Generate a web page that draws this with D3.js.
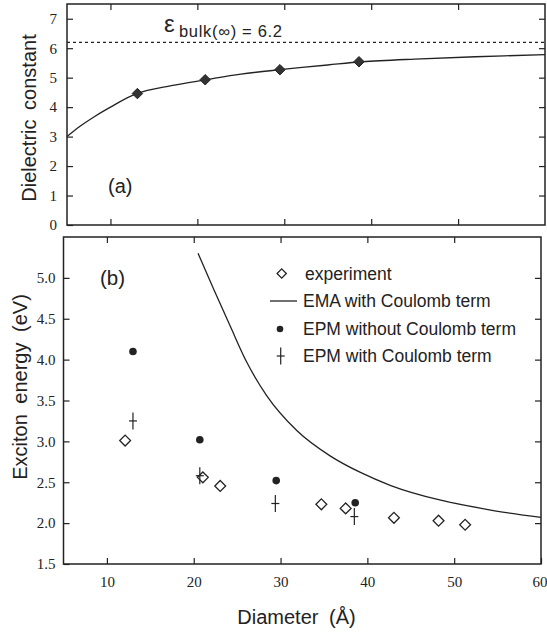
<!DOCTYPE html>
<html>
<head>
<meta charset="utf-8">
<script src="https://cdn.jsdelivr.net/npm/d3@7"></script>
<style>
  html, body { margin: 0; padding: 0; background: #fff; }
  svg { display: block; }
</style>
</head>
<body>
<svg id="chart" width="547" height="633"></svg>
<script>
// ---------- data ----------
// panel (a): dielectric constant vs diameter
const dielDiam = [13.1, 20.9, 29.5, 38.6];
const dielEps  = [4.46, 4.93, 5.27, 5.54];
const dielFitDiam = [5, 6.5, 8, 10, 13, 17, 21, 25, 29.5, 35, 39, 45, 52, 60];
const dielFitEps  = [3.0, 3.35, 3.65, 4.0, 4.46, 4.73, 4.93, 5.12, 5.27, 5.43, 5.54, 5.63, 5.71, 5.78];
const epsBulk = 6.2;
const dielTicksY = [0, 1, 2, 3, 4, 5, 6, 7];

// panel (b): exciton energy vs diameter
const expDiam = [12.1, 21.05, 23.05, 34.7, 37.5, 43.06, 48.2, 51.26];
const expE    = [3.01, 2.56, 2.455, 2.23, 2.18, 2.065, 2.03, 1.98];
const epmNoCDiam = [13.0, 20.7, 29.5, 38.6];
const epmNoCE    = [4.10, 3.02, 2.52, 2.25];
const epmCDiam = [13.0, 20.7, 29.4, 38.5];
const epmCE    = [3.25, 2.58, 2.24, 2.08];
const emaDiam = [20.5, 22.3, 24.2, 26.1, 28.4, 31.9, 35.75, 39.2, 42.7, 48.45, 54.2, 60];
const emaE    = [5.30, 4.86, 4.41, 3.97, 3.56, 3.13, 2.82, 2.62, 2.46, 2.28, 2.16, 2.07];
const energyTicks = [1.5, 2.0, 2.5, 3.0, 3.5, 4.0, 4.5, 5.0];
const diamTicks = [10, 20, 30, 40, 50, 60];
const legendLabels = ["experiment", "EMA with Coulomb term", "EPM without Coulomb term", "EPM with Coulomb term"];

// ---------- setup ----------
const ink = "#222";
const sans = "'Liberation Sans', Arial, Helvetica, sans-serif";
const serif = "'Liberation Serif', 'Times New Roman', serif";
const svg = d3.select("#chart");

const xA = d3.scaleLinear().domain([5, 60]).range([67, 545]);
const yA = d3.scaleLinear().domain([0, 7.5]).range([225, 4]);
const xB = d3.scaleLinear().domain([5, 60]).range([63.5, 541]);
const yB = d3.scaleLinear().domain([1.5, 5.5]).range([564, 237]);

function styleAxis(g) {
  g.select(".domain").remove();
  g.selectAll(".tick line").attr("stroke", ink).attr("stroke-width", 1.2);
  g.selectAll(".tick text").attr("fill", ink).attr("font-family", serif).attr("font-size", 15);
}

function frame(x, y) {
  svg.append("rect")
    .attr("x", x.range()[0]).attr("y", y.range()[1])
    .attr("width", x.range()[1] - x.range()[0])
    .attr("height", y.range()[0] - y.range()[1])
    .attr("fill", "none").attr("stroke", ink).attr("stroke-width", 1.5);
}

// ---------- panel (a) ----------
const innerTicksX = [10, 20, 30, 40, 50];
svg.append("g").attr("transform", `translate(${xA.range()[0]},0)`)
  .call(d3.axisLeft(yA).tickValues(dielTicksY).tickSizeInner(-6).tickSizeOuter(0).tickPadding(10).tickFormat(d3.format("d")))
  .call(styleAxis);
svg.append("g").attr("transform", `translate(${xA.range()[1]},0)`)
  .call(d3.axisRight(yA).tickValues(dielTicksY.slice(1)).tickSizeInner(-6).tickSizeOuter(0).tickFormat(""))
  .call(styleAxis);
svg.append("g").attr("transform", `translate(0,${yA.range()[0]})`)
  .call(d3.axisBottom(xA).tickValues(innerTicksX).tickSizeInner(-6).tickSizeOuter(0).tickFormat(""))
  .call(styleAxis);
svg.append("g").attr("transform", `translate(0,${yA.range()[1]})`)
  .call(d3.axisTop(xA).tickValues(innerTicksX).tickSizeInner(-6).tickSizeOuter(0).tickFormat(""))
  .call(styleAxis);
frame(xA, yA);

// dashed bulk line
svg.append("line")
  .attr("x1", xA(5)).attr("x2", xA(60))
  .attr("y1", yA(epsBulk)).attr("y2", yA(epsBulk))
  .attr("stroke", ink).attr("stroke-width", 1.2).attr("stroke-dasharray", "3,3");

// fit curve
const fitA = dielFitDiam.map((d, i) => [d, dielFitEps[i]]);
svg.append("path")
  .attr("d", d3.line().x(d => xA(d[0])).y(d => yA(d[1])).curve(d3.curveCatmullRom)(fitA))
  .attr("fill", "none").attr("stroke", ink).attr("stroke-width", 1.3);

// filled diamonds
const diamondFilled = d3.symbol().type(d3.symbolDiamond2).size(70);
svg.append("g").selectAll("path")
  .data(dielDiam.map((d, i) => [d, dielEps[i]]))
  .join("path")
  .attr("transform", d => `translate(${xA(d[0])},${yA(d[1])})`)
  .attr("d", diamondFilled)
  .attr("fill", "#333").attr("stroke", ink).attr("stroke-width", 1);

// epsilon label
svg.append("text").attr("x", 164).attr("y", 32)
  .attr("font-family", sans).attr("font-size", 24).attr("fill", ink).text("ε");
svg.append("text").attr("x", 179).attr("y", 36.5)
  .attr("font-family", sans).attr("font-size", 16.5).attr("fill", ink)
  .attr("textLength", 103).attr("lengthAdjust", "spacing")
  .text("bulk(∞) = " + epsBulk.toFixed(1));

svg.append("text").attr("x", 108).attr("y", 193)
  .attr("font-family", sans).attr("font-size", 20).attr("fill", ink).text("(a)");

svg.append("text")
  .attr("transform", "translate(36,118) rotate(-90)")
  .attr("text-anchor", "middle")
  .attr("font-family", sans).attr("font-size", 20).attr("fill", ink)
  .attr("word-spacing", 4)
  .text("Dielectric constant");

// ---------- panel (b) ----------
svg.append("g").attr("transform", `translate(${xB.range()[0]},0)`)
  .call(d3.axisLeft(yB).tickValues(energyTicks).tickSizeInner(-6).tickSizeOuter(0).tickPadding(8).tickFormat(d3.format(".1f")))
  .call(styleAxis);
svg.append("g").attr("transform", `translate(${xB.range()[1]},0)`)
  .call(d3.axisRight(yB).tickValues(energyTicks.slice(1)).tickSizeInner(-6).tickSizeOuter(0).tickFormat(""))
  .call(styleAxis);
const xAxisB = svg.append("g").attr("transform", `translate(0,${yB.range()[0]})`)
  .call(d3.axisBottom(xB).tickValues(diamTicks).tickSizeInner(-6).tickSizeOuter(0).tickPadding(12).tickFormat(d3.format("d")))
  .call(styleAxis);
// keep the last label ("60") inside the picture
xAxisB.selectAll(".tick text").filter(d => d === 60).attr("text-anchor", "end").attr("dx", 6);
svg.append("g").attr("transform", `translate(0,${yB.range()[1]})`)
  .call(d3.axisTop(xB).tickValues(innerTicksX).tickSizeInner(-6).tickSizeOuter(0).tickFormat(""))
  .call(styleAxis);
frame(xB, yB);

// EMA curve
const ema = emaDiam.map((d, i) => [d, emaE[i]]);
svg.append("path")
  .attr("d", d3.line().x(d => xB(d[0])).y(d => yB(d[1])).curve(d3.curveMonotoneX)(ema))
  .attr("fill", "none").attr("stroke", ink).attr("stroke-width", 1.3);

// open diamonds (experiment)
const diamondOpen = d3.symbol().type(d3.symbolDiamond2).size(75);
svg.append("g").selectAll("path")
  .data(expDiam.map((d, i) => [d, expE[i]]))
  .join("path")
  .attr("transform", d => `translate(${xB(d[0])},${yB(d[1])})`)
  .attr("d", diamondOpen)
  .attr("fill", "#fff").attr("stroke", ink).attr("stroke-width", 1.3);

// filled circles (EPM without Coulomb)
svg.append("g").selectAll("circle")
  .data(epmNoCDiam.map((d, i) => [d, epmNoCE[i]]))
  .join("circle")
  .attr("cx", d => xB(d[0])).attr("cy", d => yB(d[1])).attr("r", 3.8)
  .attr("fill", ink);

// crosses (EPM with Coulomb)
function dagger(g, cx, cy) {
  g.append("line").attr("x1", cx).attr("x2", cx).attr("y1", cy - 8.5).attr("y2", cy + 8.5)
    .attr("stroke", ink).attr("stroke-width", 1.2);
  g.append("line").attr("x1", cx - 4).attr("x2", cx + 4).attr("y1", cy).attr("y2", cy)
    .attr("stroke", ink).attr("stroke-width", 1.2);
}
const crossG = svg.append("g");
epmCDiam.forEach((d, i) => dagger(crossG, xB(d), yB(epmCE[i])));

// panel label & axis titles
svg.append("text").attr("x", 100).attr("y", 285)
  .attr("font-family", sans).attr("font-size", 20.5).attr("fill", ink).text("(b)");

svg.append("text")
  .attr("transform", "translate(27,387) rotate(-90)")
  .attr("text-anchor", "middle")
  .attr("font-family", sans).attr("font-size", 20).attr("fill", ink)
  .attr("word-spacing", 5)
  .text("Exciton energy (eV)");

svg.append("text")
  .attr("x", 296.5).attr("y", 624)
  .attr("text-anchor", "middle")
  .attr("font-family", sans).attr("font-size", 20).attr("fill", ink)
  .attr("word-spacing", 5)
  .text("Diameter (Å)");

// legend
const leg = svg.append("g");
const legY = [273.5, 301, 329, 356];
const legFont = 17.5;
leg.append("path").attr("transform", `translate(281.7,${legY[0]})`)
  .attr("d", d3.symbol().type(d3.symbolDiamond2).size(55)())
  .attr("fill", "#fff").attr("stroke", ink).attr("stroke-width", 1.3);
leg.append("line").attr("x1", 270).attr("x2", 297).attr("y1", legY[1]).attr("y2", legY[1])
  .attr("stroke", ink).attr("stroke-width", 1.3);
leg.append("circle").attr("cx", 280).attr("cy", legY[2]).attr("r", 3.3).attr("fill", ink);
dagger(leg, 280.7, legY[3]);
const legX = [305, 303, 303, 303];
legendLabels.forEach((t, i) => {
  leg.append("text").attr("x", legX[i]).attr("y", legY[i] + 6)
    .attr("font-family", sans).attr("font-size", legFont).attr("fill", ink)
    .text(t);
});
</script>
</body>
</html>
